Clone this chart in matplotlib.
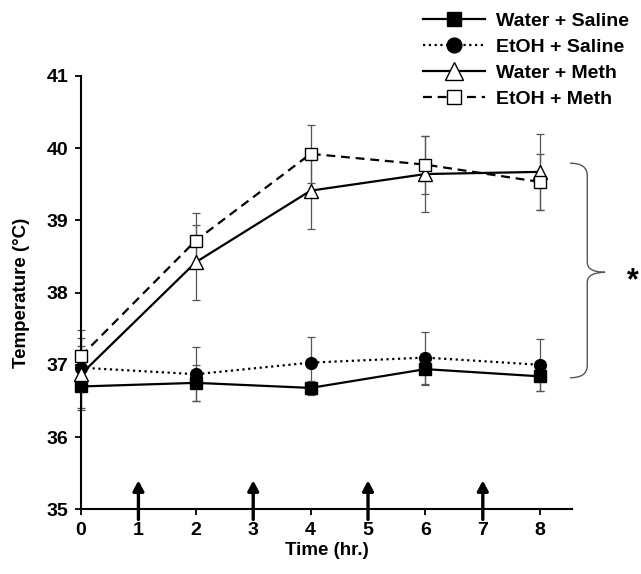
import matplotlib
matplotlib.use("Agg")
import matplotlib.pyplot as plt
from matplotlib.path import Path
from matplotlib.patches import PathPatch

plt.rcParams['font.family'] = ['Liberation Sans', 'DejaVu Sans']
plt.rcParams['font.weight'] = 'bold'

time = [0, 2, 4, 6, 8]
arrow_times = [1, 3, 5, 7]

water_saline = [36.70, 36.75, 36.68, 36.94, 36.84]
water_saline_err = [0.30, 0.25, 0.10, 0.22, 0.20]
etoh_saline = [36.96, 36.87, 37.03, 37.10, 37.00]
etoh_saline_err = [0.30, 0.37, 0.36, 0.36, 0.36]
water_meth = [36.87, 38.42, 39.41, 39.64, 39.67]
water_meth_err = [0.50, 0.52, 0.53, 0.52, 0.53]
etoh_meth = [37.12, 38.72, 39.92, 39.77, 39.53]
etoh_meth_err = [0.36, 0.38, 0.40, 0.40, 0.39]

labels = ["Water + Saline", "EtOH + Saline", "Water + Meth", "EtOH + Meth"]

fig = plt.figure(figsize=(6.41, 5.74), dpi=100)
ax = fig.add_axes([0.1264, 0.1127, 0.892 - 0.1264, 0.868 - 0.1127])

series = [
    (water_saline, water_saline_err, dict(linestyle='-', marker='s', mfc='black', ms=8)),
    (etoh_saline, etoh_saline_err, dict(linestyle=(0, (1, 1.6)), marker='o', mfc='black', ms=8.5)),
    (water_meth, water_meth_err, dict(linestyle='-', marker='^', mfc='white', ms=10.5)),
    (etoh_meth, etoh_meth_err, dict(linestyle=(0, (4, 2.6)), marker='s', mfc='white', ms=8.5)),
]

handles = []
for (vals, err, st), lab in zip(series, labels):
    eb = ax.errorbar(time, vals, yerr=err, fmt='none', ecolor='#555555', elinewidth=0.9,
                     capsize=3, capthick=0.9, zorder=2)
    for art in eb.lines[1] + eb.lines[2]:
        art.set_clip_on(False)
    h, = ax.plot(time, vals, color='black', lw=1.6, linestyle=st['linestyle'],
                 marker=st['marker'], mfc=st['mfc'], mec='black', mew=1.0,
                 ms=st['ms'], label=lab, zorder=3, clip_on=False)
    handles.append(h)

ax.set_xlim(0, 8.55)
ax.set_ylim(35, 41)
ax.set_xticks(range(0, 9))
ax.set_yticks(range(35, 42))
ax.spines['top'].set_visible(False)
ax.spines['right'].set_visible(False)
for s in ['left', 'bottom']:
    ax.spines[s].set_linewidth(1.5)
ax.tick_params(direction='out', length=4, width=1.3, labelsize=14, pad=5)
for t in ax.get_xticklabels() + ax.get_yticklabels():
    t.set_fontweight('bold')

ax.set_xlabel("Time (hr.)", fontsize=13.5, fontweight='bold', labelpad=2)
ax.set_ylabel("Temperature (°C)", fontsize=13.5, fontweight='bold', labelpad=12)

# injection arrows
for t in arrow_times:
    ax.annotate('', xy=(t, 35.40), xytext=(t, 34.86),
                arrowprops=dict(arrowstyle='-|>,head_length=0.6,head_width=0.32',
                                color='black', lw=2.4, shrinkA=0, shrinkB=0),
                annotation_clip=False, zorder=5)

# curly brace on the right
xa, xb, xc = 8.52, 8.82, 9.13
ytop, ymid, ybot = 39.79, 38.28, 36.82
verts = [
    (xa, ytop), (xb, ytop), (xb, ytop - 0.17),
    (xb, ymid + 0.14),
    (xb, ymid), (xc, ymid),
    (xb, ymid), (xb, ymid - 0.14),
    (xb, ybot + 0.17),
    (xb, ybot), (xa, ybot),
]
codes = [Path.MOVETO, Path.CURVE3, Path.CURVE3,
         Path.LINETO,
         Path.CURVE3, Path.CURVE3,
         Path.CURVE3, Path.CURVE3,
         Path.LINETO,
         Path.CURVE3, Path.CURVE3]
brace = PathPatch(Path(verts, codes), fill=False, edgecolor='#555555', lw=1.0,
                  clip_on=False)
ax.add_patch(brace)
ax.text(9.62, 38.15, '*', fontsize=22, fontweight='bold', ha='center', va='center',
        clip_on=False)

fig.legend(handles=handles, labels=labels, loc='upper left',
           bbox_to_anchor=(0.645, 0.995), frameon=False,
           prop={'weight': 'bold', 'size': 14}, handlelength=3.2, handletextpad=0.55,
           labelspacing=0.42, borderpad=0, markerscale=1.25)

fig.savefig("out.png", dpi=100)
